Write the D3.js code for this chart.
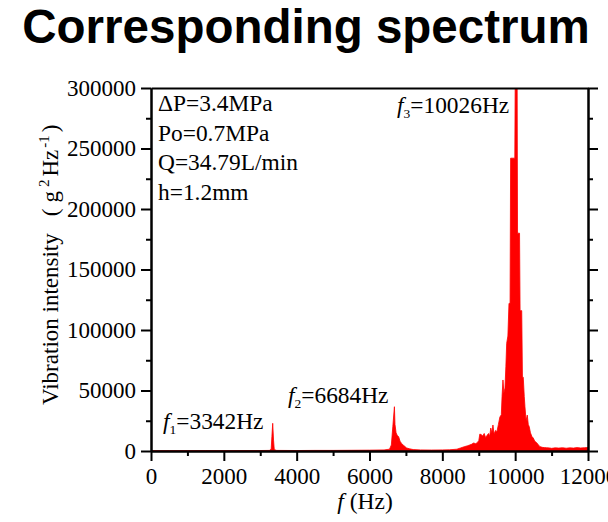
<!DOCTYPE html>
<html>
<head>
<meta charset="utf-8">
<script src="https://cdn.jsdelivr.net/npm/d3@7/dist/d3.min.js"></script>
<style>
  html, body { margin: 0; padding: 0; background: #fff; }
  svg { display: block; }
</style>
</head>
<body>
<svg id="chart" width="608" height="522"></svg>
<script>
// Vibration spectrum: frequency (Hz) and intensity (g^2/Hz)
const freqHz = [
  0, 500, 1000, 1500, 2000, 2500, 3000, 3250, 3300, 3320, 3342, 3365, 3385, 3450,
  4000, 4500, 5000, 5500, 6000, 6400, 6550, 6600, 6640, 6684, 6700, 6730, 6760, 6800,
  6840, 6880, 6940, 7020, 7100, 7200, 7400, 7700, 8000, 8200, 8400, 8500, 8600, 8700,
  8800, 8860, 8920, 8960, 9000, 9030, 9070, 9110, 9150, 9190, 9230, 9270, 9300, 9330,
  9360, 9390, 9420, 9460, 9500, 9540, 9580, 9620, 9640, 9665, 9690, 9720, 9745, 9767,
  9800, 9830, 9860, 9875, 9990, 10000, 10026, 10055, 10065, 10120, 10135, 10180, 10200,
  10222, 10250, 10269, 10300, 10332, 10360, 10387, 10420, 10460, 10497, 10540, 10590,
  10640, 10681, 10750, 10800, 10864, 10950, 11000, 11100, 11200, 11300, 11400, 11500,
  11600, 11700, 11800, 11900, 12000
];
const intensity = [
  200, 300, 300, 350, 300, 400, 400, 500, 1500, 12000, 22900, 9000, 1200, 500,
  400, 500, 500, 600, 700, 900, 1500, 5000, 20000, 36600, 22000, 15000, 13000, 11800,
  8000, 6300, 4500, 2500, 1800, 1200, 900, 800, 900, 1000, 1500, 2500, 3500, 4400,
  5500, 6600, 6000, 7000, 8500, 14000, 13500, 12500, 14500, 11000, 13000, 14500, 12000, 19000,
  15000, 21500, 14000, 17000, 16000, 22000, 28000, 30000, 45000, 58700, 48000, 52000, 70000, 89000,
  95000, 122000, 122000, 242000, 242000, 300000, 300000, 300000, 180000, 180000, 116000, 116000, 61000,
  61000, 45000, 36600, 25000, 29700, 22000, 20000, 15000, 12000, 10700, 8000, 6900,
  5000, 3600, 3000, 2800, 2700, 2500, 2200, 2600, 2400, 2700, 2300, 2600,
  2400, 2800, 2500, 2700, 2900
];

const yMajor = [0, 50000, 100000, 150000, 200000, 250000, 300000];
const yMinor = [25000, 75000, 125000, 175000, 225000, 275000];
const xMajor = [0, 2000, 4000, 6000, 8000, 10000, 12000];
const xMinor = [1000, 3000, 5000, 7000, 9000, 11000];

const peakLabels = [
  { sub: "1", text: "=3342Hz", freq: 3342 },
  { sub: "2", text: "=6684Hz", freq: 6684 },
  { sub: "3", text: "=10026Hz", freq: 10026 }
];
const conditions = ["\u0394P=3.4MPa", "Po=0.7MPa", "Q=34.79L/min", "h=1.2mm"];

const svg = d3.select("#chart");
const plotLeft = 151, plotRight = 588, plotTop = 88, plotBottom = 451;
const x = d3.scaleLinear().domain([0, 12000]).range([plotLeft, plotRight]);
const y = d3.scaleLinear().domain([0, 300000]).range([plotBottom, plotTop]);
const serifFont = "'Liberation Serif', 'Times New Roman', serif";

// title
svg.append("text")
  .attr("x", 306).attr("y", 43)
  .attr("text-anchor", "middle")
  .style("font-family", "'Liberation Sans', Arial, sans-serif")
  .style("font-weight", "bold")
  .style("font-size", "47.5px")
  .text("Corresponding spectrum");

// spectrum fill, clipped to the plot frame
svg.append("clipPath").attr("id", "plotClip")
  .append("rect").attr("x", plotLeft).attr("y", plotTop)
  .attr("width", plotRight - plotLeft).attr("height", plotBottom - plotTop);

const pts = freqHz.map((f, i) => [f, intensity[i]]);
const area = d3.area().x(d => x(d[0])).y0(y(0)).y1(d => y(d[1]));
svg.append("path")
  .datum(pts)
  .attr("clip-path", "url(#plotClip)")
  .attr("fill", "#ff0000")
  .attr("stroke", "#ff0000")
  .attr("stroke-width", 0.8)
  .attr("d", area);

// axes
function styleAxis(g) {
  g.selectAll("path.domain").attr("stroke", "#000").attr("stroke-width", 2);
  g.selectAll(".tick line").attr("stroke", "#000").attr("stroke-width", 2);
  g.selectAll(".tick text")
    .attr("fill", "#000")
    .style("font-family", serifFont)
    .style("font-size", "23px");
}

const axLeftMinor = svg.append("g").attr("transform", `translate(${plotLeft},0)`)
  .call(d3.axisLeft(y).tickValues(yMinor).tickSize(5).tickSizeOuter(0).tickFormat(""));
styleAxis(axLeftMinor);
const axLeft = svg.append("g").attr("transform", `translate(${plotLeft},0)`)
  .call(d3.axisLeft(y).tickValues(yMajor).tickSize(10).tickSizeOuter(0).tickPadding(5).tickFormat(d3.format("d")));
styleAxis(axLeft);

const axRightMinor = svg.append("g").attr("transform", `translate(${plotRight},0)`)
  .call(d3.axisRight(y).tickValues(yMinor).tickSize(5).tickSizeOuter(0).tickFormat(""));
styleAxis(axRightMinor);
const axRight = svg.append("g").attr("transform", `translate(${plotRight},0)`)
  .call(d3.axisRight(y).tickValues(yMajor).tickSize(10).tickSizeOuter(0).tickFormat(""));
styleAxis(axRight);

const axBottomMinor = svg.append("g").attr("transform", `translate(0,${plotBottom})`)
  .call(d3.axisBottom(x).tickValues(xMinor).tickSize(5).tickSizeOuter(0).tickFormat(""));
styleAxis(axBottomMinor);
const axBottom = svg.append("g").attr("transform", `translate(0,${plotBottom})`)
  .call(d3.axisBottom(x).tickValues(xMajor).tickSize(10).tickSizeOuter(0).tickPadding(7).tickFormat(d3.format("d")));
styleAxis(axBottom);

const axTop = svg.append("g").attr("transform", `translate(0,${plotTop})`)
  .call(d3.axisTop(x).tickValues([]).tickSizeOuter(0));
styleAxis(axTop);

// y axis title, reading upward from the bottom of the frame
const yTitle = svg.append("text")
  .attr("transform", "translate(58,405) rotate(-90)")
  .attr("text-anchor", "start")
  .style("font-family", serifFont)
  .style("font-size", "23px");
yTitle.append("tspan").text("Vibration intensity");
yTitle.append("tspan").attr("dx", 17).text("(");
yTitle.append("tspan").attr("dx", 6).text("g");
yTitle.append("tspan").attr("dx", 4).attr("dy", -9).style("font-size", "15px").text("2");
yTitle.append("tspan").attr("dx", 3).attr("dy", 9).text("Hz");
yTitle.append("tspan").attr("dx", 2).attr("dy", -9).style("font-size", "15px").text("-1");
yTitle.append("tspan").attr("dx", 3).attr("dy", 9).text(")");

// x axis title
const xTitle = svg.append("text")
  .attr("x", 365).attr("y", 509)
  .attr("text-anchor", "middle")
  .style("font-family", serifFont)
  .style("font-size", "23.5px");
xTitle.append("tspan").style("font-style", "italic").text("f");
xTitle.append("tspan").text("  (Hz)");

// operating conditions
svg.append("g").selectAll("text")
  .data(conditions)
  .join("text")
  .attr("x", 158)
  .attr("y", (d, i) => 111 + i * 29.6)
  .style("font-family", serifFont)
  .style("font-size", "23.4px")
  .text(d => d);

// peak annotations
const peakPos = [
  { x: 163, y: 429 },
  { x: 288, y: 403 },
  { x: 397, y: 113 }
];
peakLabels.forEach((p, i) => {
  const t = svg.append("text")
    .attr("x", peakPos[i].x).attr("y", peakPos[i].y)
    .style("font-family", serifFont)
    .style("font-size", "23.4px");
  t.append("tspan").style("font-style", "italic").text("f");
  t.append("tspan").attr("dy", 5).style("font-size", "13.5px").text(p.sub);
  t.append("tspan").attr("dy", -5).text(p.text);
});
</script>
</body>
</html>
